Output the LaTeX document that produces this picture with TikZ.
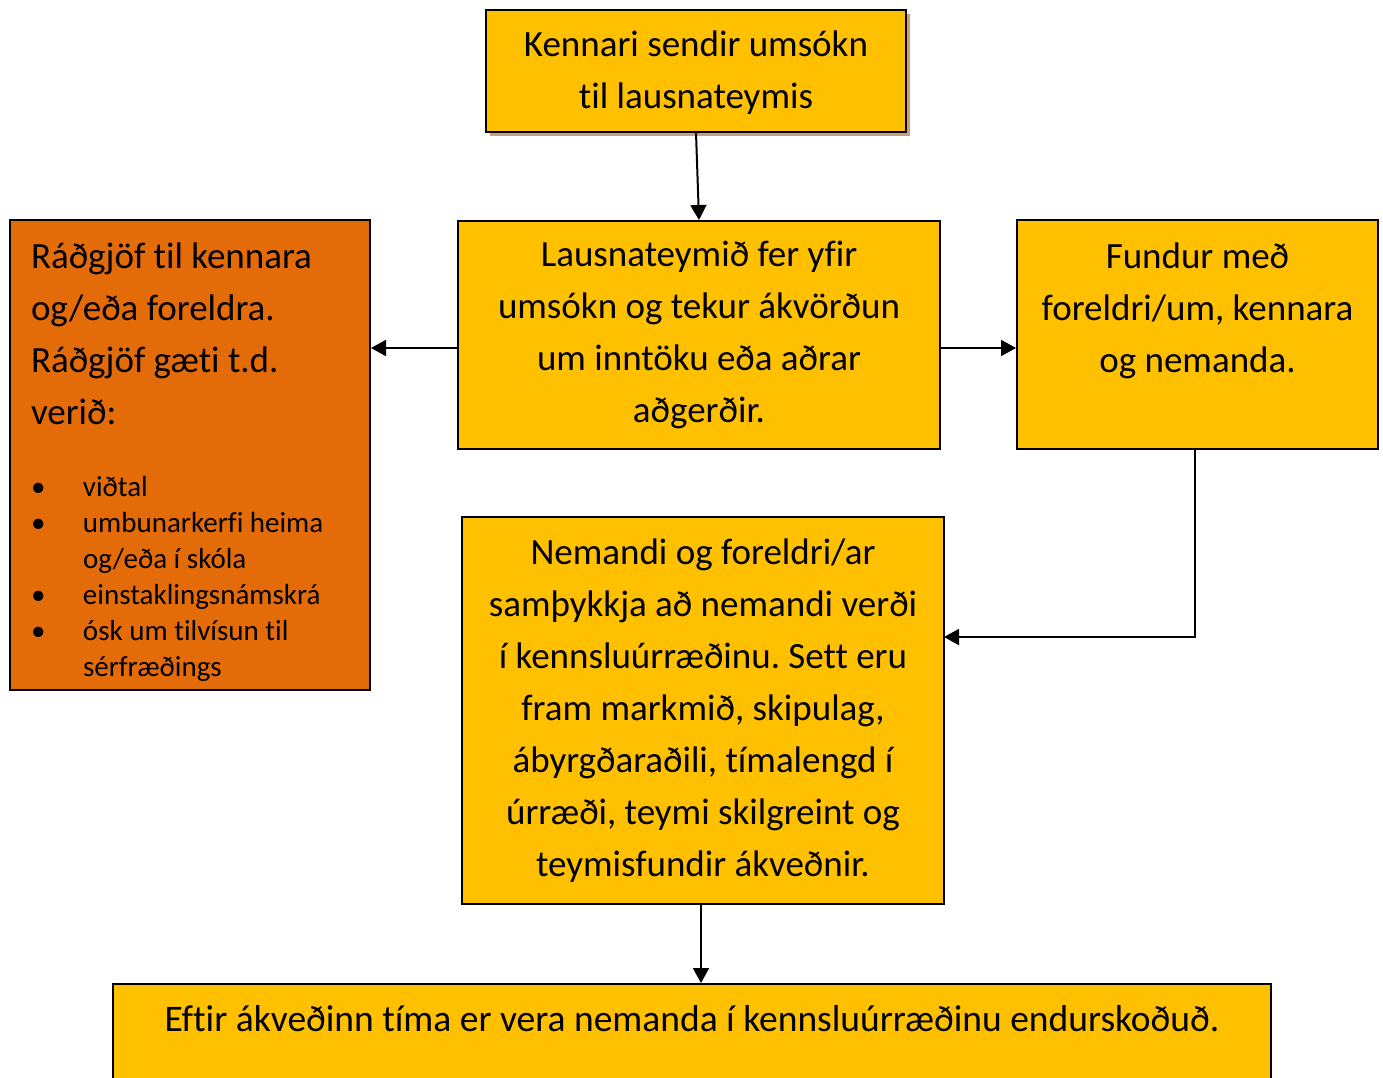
\documentclass[tikz,border=0pt]{standalone}
\usepackage{fontspec}
\setmainfont{Carlito}[Ligatures=NoCommon]
\usetikzlibrary{arrows.meta,shadows}
\definecolor{amber}{HTML}{FFC000}
\definecolor{rust}{HTML}{E36C09}
\definecolor{tan}{HTML}{C8A07F}
\tikzset{
  flowbox/.style={draw=black,line width=2pt,fill=amber,inner sep=0pt,align=flush center,
    font=\fontsize{37}{52}\selectfont\frenchspacing},
  flowline/.style={line width=2pt,-{Triangle[length=15pt,width=16pt]}}
}
\begin{document}
\begin{tikzpicture}[x=1pt,y=-1pt]
  \useasboundingbox[fill=white] (0,0) rectangle (1383,1077);
  \clip (0,0) rectangle (1383,1077);
  \node[flowbox,minimum width=420pt,minimum height=122pt,text width=400pt,
        drop shadow={shadow xshift=3.5pt,shadow yshift=-3.5pt,fill=tan,opacity=1}]
        (apply) at (696,71) {\rule{0pt}{29pt}Kennari sendir umsókn\\til lausnateymis};
  \node[flowbox,minimum width=482pt,minimum height=228pt,text width=462pt]
        (team) at (699,335)
        {Lausnateymið fer yfir\\umsókn og tekur ákvörðun\\um inntöku eða aðrar\\aðgerðir.};
  \node[flowbox,fill=rust,minimum width=360pt,minimum height=470pt,text width=318pt,
        align=flush left] (advice) at (190,455)
        {\rule{0pt}{40pt}Ráðgjöf til kennara\\og/eða foreldra.\\Ráðgjöf gæti t.d.\\verið:\par
         \vskip36pt
         {\fontsize{29}{36}\selectfont
         \makebox[52pt][l]{•}viðtal\\
         \makebox[52pt][l]{•}umbunarkerfi heima\\
         \hspace*{52pt}og/eða í skóla\\
         \makebox[52pt][l]{•}einstaklingsnámskrá\\
         \makebox[52pt][l]{•}ósk um tilvísun til\\
         \hspace*{52pt}sérfræðings\par}};
  \node[flowbox,minimum width=361pt,minimum height=229pt,text width=341pt]
        (meeting) at (1197.5,334.5)
        {\rule{0pt}{40pt}Fundur með\\foreldri/um, kennara\\og nemanda.\\\strut};
  \node[flowbox,minimum width=482pt,minimum height=387pt,text width=462pt]
        (plan) at (703,710.5)
        {Nemandi og foreldri/ar\\samþykkja að nemandi verði\\í kennsluúrræðinu. Sett eru\\fram markmið, skipulag,\\ábyrgðaraðili, tímalengd í\\úrræði, teymi skilgreint og\\teymisfundir ákveðnir.};
  \node[flowbox,anchor=north,minimum width=1158pt,text height=47pt,text depth=80pt,
        font=\fontsize{37.5}{52}\selectfont]
        (review) at (692,983)
        {Eftir ákveðinn tíma er vera nemanda í kennsluúrræðinu endurskoðuð.};
  \coordinate (planin) at (944,637);
  % connectors
  \draw[flowline] (apply.south) -- (team.north);
  \draw[flowline] (team.west |- 0,348) -- (advice.east |- 0,348);
  \draw[flowline] (team.east |- 0,348) -- (meeting.west |- 0,348);
  \draw[flowline] ([xshift=-2.5pt]meeting.south) |- (planin);
  \draw[flowline] ([xshift=-2pt]plan.south) -- ([xshift=-2pt]plan.south |- review.north);
\end{tikzpicture}
\end{document}
